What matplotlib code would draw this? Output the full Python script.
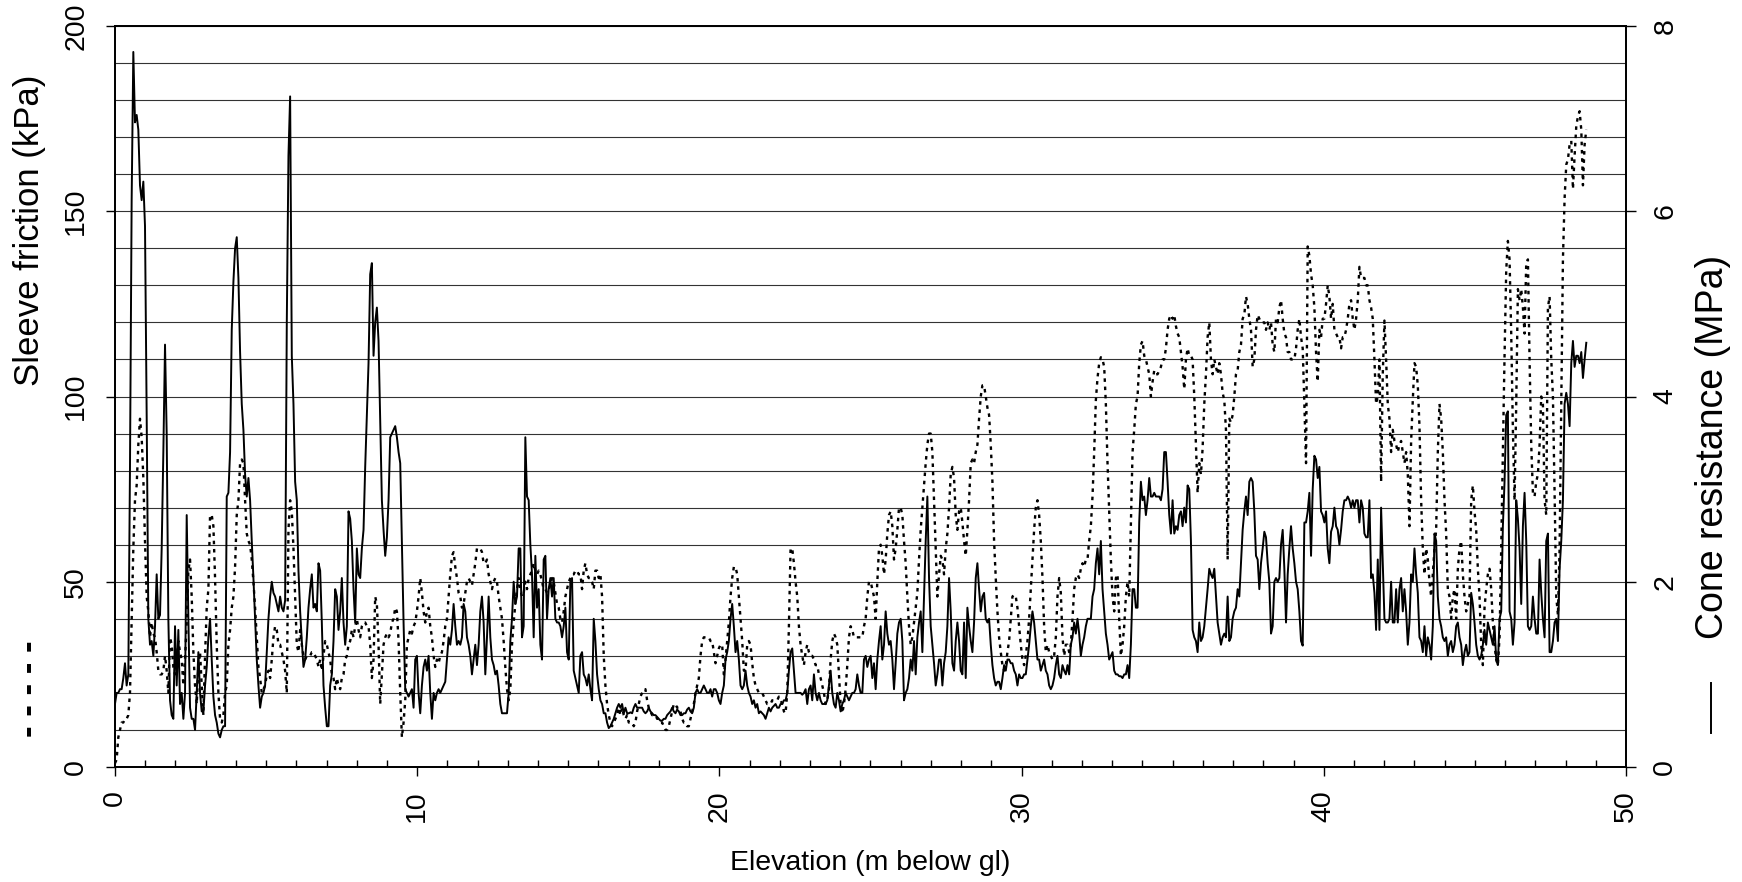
import matplotlib
matplotlib.use("Agg")
import matplotlib.pyplot as plt
from matplotlib.lines import Line2D
from matplotlib.ticker import MultipleLocator
import numpy as np

plt.rcParams["font.family"] = ["Liberation Sans", "DejaVu Sans"]

# CPT log sampled at a constant depth increment (m)
DEPTH_STEP = 0.0552

# sleeve friction (kPa), three depth stretches: 0-17 m, 17-33.5 m, 33.5-48.7 m
SLEEVE_UPPER = [
    1, 2, 8, 10, 12, 12, 13, 13, 14, 20,
    39, 59, 72, 76, 87, 94, 89, 78, 61, 46,
    42, 35, 39, 36, 35, 31, 26, 25, 25, 26,
    30, 26, 20, 35, 33, 27, 25, 29, 34, 31,
    29, 22, 29, 39, 53, 56, 46, 31, 22, 17,
    27, 31, 22, 14, 30, 43, 48, 68, 68, 65,
    51, 33, 20, 13, 12, 14, 20, 22, 33, 37,
    43, 46, 54, 68, 72, 82, 83, 82, 72, 63,
    61, 60, 56, 50, 43, 35, 27, 24, 20, 21,
    22, 25, 26, 24, 29, 35, 38, 37, 33, 33,
    31, 29, 26, 20, 64, 72, 69, 59, 46, 33,
    31, 37, 33, 30, 29, 30, 30, 30, 31, 31,
    30, 29, 27, 29, 26, 30, 34, 33, 31, 29,
    25, 24, 21, 24, 22, 21, 24, 25, 29, 30,
    33, 34, 37, 35, 38, 40, 37, 35, 38, 39,
    39, 38, 38, 33, 24, 29, 46, 44, 33, 17,
    25, 33, 35, 36, 35, 36, 39, 40, 43, 42,
    34, 20, 8, 12, 18, 33, 35, 37, 36, 38,
    39, 42, 46, 51, 47, 42, 39, 42, 43, 38,
    35, 30, 27, 29, 28, 30, 31, 34, 38, 40,
    46, 52, 57, 58, 54, 51, 47, 46, 43, 44,
    47, 50, 51, 50, 49, 52, 55, 59, 59, 59,
    58, 55, 55, 56, 52, 50, 48, 50, 51, 50,
    46, 43, 40, 34, 27, 21, 18, 21, 33, 39,
    44, 48, 51, 48, 46, 47, 50, 48, 51, 52,
    53, 55, 53, 52, 53, 52, 50, 48, 48, 47,
    48, 49, 51, 50, 47, 44, 43, 40, 39, 42,
    46, 48, 50, 51, 52, 52, 53, 53, 52, 52,
    48, 53, 55, 52, 51, 51, 50, 48, 53, 53,
    51, 52, 46, 30, 22, 17, 14, 12, 11, 12,
    13, 14, 16, 14, 16, 14, 13, 14,
]
SLEEVE_MIDDLE = [
    12, 12, 12, 11, 12, 15, 17, 19, 20, 21,
    21, 18, 16, 15, 14, 14, 14, 13, 13, 12,
    12, 11, 10, 10, 11, 13, 15, 17, 17, 16,
    16, 15, 13, 12, 12, 11, 11, 13, 15, 17,
    20, 22, 24, 30, 34, 35, 35, 35, 35, 34,
    34, 31, 28, 30, 32, 33, 33, 25, 29, 34,
    39, 46, 51, 54, 54, 52, 46, 40, 34, 26,
    26, 33, 34, 33, 28, 24, 22, 21, 20, 20,
    20, 19, 18, 17, 17, 17, 18, 18, 18, 18,
    19, 18, 17, 15, 14.5, 20, 38, 59, 59, 55,
    50, 46, 38, 33, 30, 27.5, 31, 33, 31, 30,
    30, 29, 27.5, 27.5, 25, 24, 22, 20, 17, 18,
    21, 29, 34, 36, 35, 33, 25, 17, 14.5, 17,
    21, 27.5, 35, 38, 37, 35, 35, 35, 35, 35,
    35, 38, 40, 46, 50, 50, 48, 46, 40, 50,
    59, 60, 57, 52, 56, 63, 68, 69, 65, 56,
    59, 64, 70, 70, 68, 61, 55, 46, 38, 33,
    35, 39, 43, 47, 56, 64, 70, 76, 82, 87,
    90, 90, 85, 72, 59, 46, 52, 57, 56, 52,
    59, 63, 70, 79, 81, 78, 68, 64, 69, 70,
    66, 61, 57, 64, 72, 82, 83, 82, 85, 87,
    94, 100, 103, 103, 100, 97, 95, 87, 77, 61,
    51, 42, 35, 31, 27.5, 26, 27.5, 31, 34, 40,
    46, 46.5, 46, 43, 38, 33, 29, 27.5, 30, 34,
    40, 48, 56, 64, 70, 72, 68, 61, 51, 38,
    31, 33, 31, 30, 29, 30, 35, 46, 51, 47,
    35, 30, 33, 33, 31, 33, 40, 48, 51, 52,
    51, 53.5, 55, 54, 56, 56, 61, 65, 73, 85,
    99, 105, 109, 110.6, 110, 108, 98, 82, 69, 56,
    46, 42, 51, 52, 40, 30, 33, 38, 46, 50,
]
SLEEVE_LOWER = [
    46, 65, 85, 91, 98, 100, 109, 114, 115, 111,
    110, 108, 106, 100, 104, 107, 106, 106, 107, 108,
    110, 110, 113, 118, 121, 122, 121, 122, 119, 117,
    116, 112, 108, 102, 110, 113, 111, 111, 110, 100,
    87, 74, 82, 79, 86, 98, 106, 116, 120, 110,
    106, 110, 108, 106, 109, 106, 101, 99, 91, 56,
    94, 93, 95, 100, 106, 107, 112, 114, 121, 122,
    127, 125, 121, 118, 108, 110, 118, 122, 121, 120,
    120, 120, 118, 120, 118, 120, 114, 112, 121, 120,
    124, 126, 121, 117, 116, 112, 112, 110, 110, 110,
    113, 118, 121, 116, 113, 98, 82, 140.5, 138, 133,
    130, 124, 112, 104, 118, 116, 121, 121, 125, 130,
    127, 121, 125, 118, 117, 116, 116, 113, 116, 116,
    118, 121, 125, 126, 121, 118, 121, 126, 135, 132,
    132, 132, 130, 130, 126, 124, 121, 110, 98, 100,
    110, 77, 106, 120.5, 110, 98, 94, 85, 91, 88,
    87, 85, 87, 88, 85, 82, 85, 79, 65, 88,
    99, 109, 108, 103, 92, 72, 59, 52, 59, 56,
    50, 46, 52, 59, 64, 85, 98, 94, 85, 72,
    63, 48, 46, 40, 46, 48, 40, 53.5, 59, 61,
    52, 46, 42, 44, 46, 72, 76, 69, 64, 53.5,
    46, 33, 27.5, 43, 48, 52, 53.5, 48, 39, 33,
    29, 27.5, 35, 59, 85, 111, 134, 142, 137, 117,
    91, 72, 98, 129, 126, 129, 124, 117, 136, 137,
    110, 87, 74, 73, 77, 79, 87, 100, 98, 72,
    68, 124, 127, 110, 100, 74, 46, 41, 59, 98,
    137, 153.5, 162.6, 164, 168, 169, 156, 165, 173, 175.6,
    177, 172, 157, 168, 172,
]

# cone resistance (MPa), same three stretches
CONE_UPPER = [
    0.68, 0.80, 0.80, 0.84, 0.84, 0.96, 1.12, 0.88, 1.00, 3.24,
    6.12, 7.72, 6.96, 7.04, 6.88, 6.28, 6.12, 6.32, 5.84, 3.80,
    1.60, 1.32, 1.36, 1.20, 1.52, 2.08, 1.60, 1.64, 2.36, 3.40,
    4.56, 3.60, 1.60, 0.72, 0.56, 0.52, 1.52, 0.88, 1.48, 0.68,
    0.80, 0.52, 0.80, 2.72, 1.60, 0.64, 0.52, 0.52, 0.40, 0.80,
    1.24, 0.80, 0.60, 0.60, 0.88, 1.08, 1.40, 1.60, 1.16, 0.76,
    0.56, 0.48, 0.36, 0.32, 0.40, 0.44, 0.44, 2.92, 2.96, 3.40,
    4.72, 5.24, 5.60, 5.72, 5.28, 4.48, 3.92, 3.64, 3.16, 2.92,
    3.12, 2.88, 2.44, 2.04, 1.60, 1.16, 0.88, 0.64, 0.76, 0.80,
    0.88, 1.24, 1.60, 1.84, 2.00, 1.88, 1.84, 1.76, 1.68, 1.84,
    1.72, 1.68, 1.80, 4.80, 6.60, 7.24, 4.44, 3.92, 3.08, 2.88,
    2.12, 1.68, 1.36, 1.08, 1.16, 1.40, 1.72, 1.92, 2.08, 1.72,
    1.76, 1.68, 2.20, 2.12, 1.56, 0.88, 0.64, 0.44, 0.44, 0.88,
    1.00, 1.36, 1.92, 1.84, 1.48, 1.68, 2.04, 1.56, 1.32, 1.52,
    2.76, 2.68, 2.44, 1.92, 1.56, 2.36, 2.08, 2.04, 2.36, 2.56,
    3.24, 3.80, 4.36, 5.32, 5.44, 4.44, 4.80, 4.96, 4.60, 3.76,
    2.88, 2.56, 2.28, 2.48, 2.88, 3.56, 3.60, 3.64, 3.68, 3.56,
    3.40, 3.28, 2.44, 1.56, 0.84, 0.80, 0.76, 0.80, 0.84, 0.64,
    1.16, 1.20, 0.80, 0.58, 0.88, 1.08, 1.16, 1.04, 1.20, 0.80,
    0.52, 0.80, 0.72, 0.80, 0.84, 0.80, 0.84, 0.88, 0.92, 1.16,
    1.40, 1.32, 1.48, 1.76, 1.52, 1.32, 1.36, 1.32, 1.40, 1.76,
    1.68, 1.40, 1.32, 1.20, 1.00, 1.16, 1.32, 1.10, 1.32, 1.68,
    1.84, 1.56, 1.00, 1.40, 1.84, 1.40, 1.16, 1.10, 1.00, 1.04,
    0.88, 0.68, 0.58, 0.58, 0.58, 0.58, 0.80, 1.36, 1.60, 2.00,
    1.76, 1.84, 2.36, 2.36, 1.40, 1.52, 3.56, 2.92, 2.88, 2.40,
    2.08, 1.40, 2.28, 1.72, 1.92, 1.32, 1.16, 2.24, 2.28, 1.60,
    1.92, 2.04, 1.84, 2.04, 1.60, 1.56, 1.56, 1.52, 1.40, 1.52,
    1.72, 1.24, 1.16, 2.00, 2.04, 1.04, 0.96, 0.88, 0.80, 1.20,
    1.24, 1.00, 0.96, 0.88, 1.00, 0.84, 0.72, 1.60, 1.36, 1.00,
    0.84, 0.72, 0.68, 0.58, 0.58, 0.48, 0.42, 0.44, 0.48, 0.52,
    0.58, 0.64, 0.68, 0.64, 0.68, 0.58, 0.64, 0.58,
]
CONE_MIDDLE = [
    0.58, 0.59, 0.58, 0.64, 0.68, 0.64, 0.64, 0.64, 0.64, 0.60,
    0.58, 0.60, 0.64, 0.60, 0.58, 0.56, 0.56, 0.54, 0.52, 0.50,
    0.50, 0.52, 0.52, 0.56, 0.58, 0.60, 0.64, 0.60, 0.58, 0.62,
    0.60, 0.56, 0.56, 0.58, 0.58, 0.62, 0.64, 0.60, 0.58, 0.64,
    0.80, 0.84, 0.80, 0.80, 0.84, 0.88, 0.84, 0.80, 0.80, 0.84,
    0.76, 0.84, 0.84, 0.80, 0.72, 0.68, 0.80, 0.88, 1.16, 1.24,
    1.36, 1.60, 1.76, 1.52, 1.24, 1.36, 1.16, 0.88, 0.84, 0.88,
    1.04, 0.88, 0.80, 0.76, 0.68, 0.72, 0.64, 0.68, 0.58, 0.60,
    0.58, 0.56, 0.52, 0.58, 0.64, 0.60, 0.64, 0.66, 0.68, 0.64,
    0.64, 0.68, 0.68, 0.72, 0.72, 0.80, 1.04, 1.24, 1.28, 1.04,
    0.80, 0.80, 0.80, 0.80, 0.78, 0.80, 0.84, 0.68, 0.84, 0.88,
    0.72, 1.00, 0.80, 0.72, 0.80, 0.72, 0.68, 0.68, 0.68, 0.72,
    0.88, 1.04, 0.80, 0.68, 0.64, 0.80, 0.72, 0.60, 0.68, 0.72,
    0.80, 0.76, 0.72, 0.76, 0.80, 0.80, 0.84, 1.00, 0.88, 0.80,
    0.80, 1.16, 1.20, 1.08, 1.16, 1.20, 0.96, 1.12, 0.84, 1.16,
    1.36, 1.52, 1.16, 1.32, 1.68, 1.44, 1.32, 1.36, 1.16, 0.84,
    1.12, 1.44, 1.56, 1.60, 1.36, 0.72, 0.80, 0.84, 0.96, 1.16,
    1.04, 1.36, 1.00, 1.40, 1.56, 1.68, 1.24, 1.84, 2.44, 2.92,
    2.04, 1.52, 1.32, 1.12, 0.88, 1.00, 1.16, 1.16, 0.88, 1.12,
    1.24, 1.52, 2.04, 1.68, 1.12, 1.04, 1.36, 1.56, 1.36, 1.04,
    1.00, 1.56, 0.96, 1.72, 1.52, 1.36, 1.24, 1.56, 2.04, 2.20,
    1.92, 1.68, 1.84, 1.88, 1.60, 1.56, 1.60, 1.32, 1.10, 0.96,
    0.88, 0.92, 0.92, 0.84, 0.96, 1.10, 1.04, 1.16, 1.16, 1.12,
    1.12, 1.04, 1.00, 0.88, 1.00, 0.96, 0.96, 1.00, 1.00, 1.16,
    1.32, 1.52, 1.68, 1.56, 1.36, 1.16, 1.16, 1.04, 1.10, 1.16,
    1.04, 1.00, 0.88, 0.84, 0.88, 0.96, 1.10, 1.20, 1.00, 0.96,
    1.10, 1.04, 1.00, 1.10, 1.00, 1.32, 1.40, 1.56, 1.44, 1.60,
    1.44, 1.20, 1.32, 1.40, 1.52, 1.60, 1.60, 1.60, 1.84, 1.92,
    2.20, 2.36, 2.08, 2.44, 1.92, 1.68, 1.44, 1.32, 1.16, 1.20,
    1.24, 1.04, 1.00, 1.00, 0.98, 0.98, 0.96, 1.00, 1.00, 1.10,
]
CONE_LOWER = [
    0.96, 1.32, 1.92, 1.92, 1.72, 1.72, 2.64, 3.08, 2.88, 2.92,
    2.72, 2.88, 3.12, 2.92, 2.92, 2.96, 2.92, 2.92, 2.92, 2.88,
    3.00, 3.40, 3.40, 3.08, 2.72, 2.52, 2.88, 2.52, 2.60, 2.56,
    2.72, 2.76, 2.60, 2.80, 2.64, 3.04, 3.00, 2.44, 1.48, 1.40,
    1.36, 1.24, 1.56, 1.36, 1.40, 1.52, 1.72, 1.92, 2.14, 2.08,
    2.04, 2.14, 1.84, 1.56, 1.44, 1.32, 1.40, 1.44, 1.40, 1.84,
    1.36, 1.40, 1.60, 1.68, 1.72, 1.92, 1.84, 2.20, 2.56, 2.76,
    2.92, 2.72, 3.08, 3.12, 3.08, 2.76, 2.28, 2.24, 1.92, 2.20,
    2.36, 2.54, 2.48, 2.20, 2.00, 1.44, 1.52, 2.00, 2.04, 2.00,
    2.04, 2.40, 2.56, 2.14, 1.56, 2.08, 2.36, 2.60, 2.36, 2.20,
    2.00, 1.92, 1.68, 1.36, 1.31, 2.64, 2.64, 2.76, 2.96, 2.28,
    3.00, 3.36, 3.32, 3.12, 3.24, 2.76, 2.72, 2.64, 2.76, 2.36,
    2.20, 2.54, 2.60, 2.80, 2.60, 2.56, 2.40, 2.56, 2.76, 2.88,
    2.88, 2.92, 2.88, 2.80, 2.88, 2.80, 2.88, 2.88, 2.64, 2.88,
    2.80, 2.52, 2.48, 2.48, 2.88, 2.04, 2.08, 1.88, 1.48, 2.24,
    1.48, 2.80, 2.20, 1.60, 1.56, 1.56, 1.60, 2.00, 1.56, 1.56,
    1.92, 1.56, 1.92, 2.04, 1.68, 1.92, 1.68, 1.32, 1.56, 2.08,
    2.00, 2.36, 2.08, 1.88, 1.40, 1.36, 1.24, 1.52, 1.20, 1.40,
    1.32, 1.16, 1.52, 2.52, 2.44, 1.84, 1.60, 1.52, 1.40, 1.36,
    1.40, 1.20, 1.32, 1.36, 1.24, 1.32, 1.52, 1.56, 1.40, 1.32,
    1.10, 1.24, 1.32, 1.20, 1.24, 1.88, 1.76, 1.56, 1.32, 1.20,
    1.16, 1.20, 1.32, 1.48, 1.32, 1.56, 1.48, 1.40, 1.32, 1.52,
    1.16, 1.10, 1.60, 1.68, 2.60, 3.08, 3.80, 3.84, 1.68, 1.60,
    1.32, 1.56, 2.88, 2.68, 2.36, 1.76, 2.60, 2.96, 2.44, 1.52,
    1.48, 1.52, 1.84, 1.60, 1.44, 1.44, 2.24, 1.88, 1.60, 1.40,
    2.44, 2.52, 1.24, 1.24, 1.36, 1.56, 1.60, 1.36, 2.14, 2.44,
    2.88, 3.92, 4.04, 3.92, 3.68, 4.36, 4.60, 4.32, 4.44, 4.44,
    4.36, 4.48, 4.20, 4.40, 4.58,
]

sleeve = np.array(SLEEVE_UPPER + SLEEVE_MIDDLE + SLEEVE_LOWER)
cone = np.array(CONE_UPPER + CONE_MIDDLE + CONE_LOWER)
depth = np.arange(len(sleeve)) * DEPTH_STEP

fig = plt.figure(figsize=(17.42, 8.82), dpi=100)
ax = fig.add_axes([0.0660, 0.1304, 0.8674, 0.8401])
ax2 = ax.twinx()

ax.plot(depth, sleeve, color="black", lw=1.7, linestyle=(0, (1.5, 2.0)))
ax2.plot(depth, cone, color="black", lw=1.4)

ax.set_xlim(0, 50)
ax.set_ylim(0, 200)
ax2.set_ylim(0, 8)

ax.xaxis.set_major_locator(MultipleLocator(10))
ax.xaxis.set_minor_locator(MultipleLocator(1))
ax.yaxis.set_major_locator(MultipleLocator(50))
ax.yaxis.set_minor_locator(MultipleLocator(10))
ax2.yaxis.set_major_locator(MultipleLocator(2))

ax.grid(axis="y", which="both", color="0.2", lw=0.8)
ax.set_axisbelow(True)

for a in (ax, ax2):
    for s in a.spines.values():
        s.set_linewidth(1.3)

ax.tick_params(axis="x", which="major", direction="out", length=6.5, width=1.0,
               labelsize=20.5, labelrotation=90, pad=10)
ax.tick_params(axis="x", which="minor", direction="in", length=5, width=1.0)
ax.tick_params(axis="y", which="major", direction="out", length=6.5, width=1.0,
               labelsize=20.5, labelrotation=90, pad=12)
ax.tick_params(axis="y", which="minor", length=0)
ax2.tick_params(axis="y", direction="out", length=7, width=1.0,
                labelsize=20.5, labelrotation=90, pad=12)
for lab in ax.get_yticklabels() + ax2.get_yticklabels():
    lab.set_verticalalignment("center")

ax.set_xlabel("Elevation (m below gl)", fontsize=20.5)
ax.xaxis.set_label_coords(0.5, -0.112)

# axis titles with their line-style keys, placed as in the source figure
fig.text(0.0172, 0.739, "Sleeve friction (kPa)", rotation=90,
         ha="center", va="center", fontsize=25)
fig.text(0.0172, 0.219, "- - - - -", rotation=90,
         ha="center", va="center", fontsize=25, fontweight="bold")
fig.text(0.9834, 0.493, "Cone resistance (MPa)", rotation=90,
         ha="center", va="center", fontsize=27)
fig.add_artist(Line2D([0.9822, 0.9822], [0.169, 0.226],
                      transform=fig.transFigure, color="black", lw=1.4))

fig.savefig("out.png", dpi=100)
